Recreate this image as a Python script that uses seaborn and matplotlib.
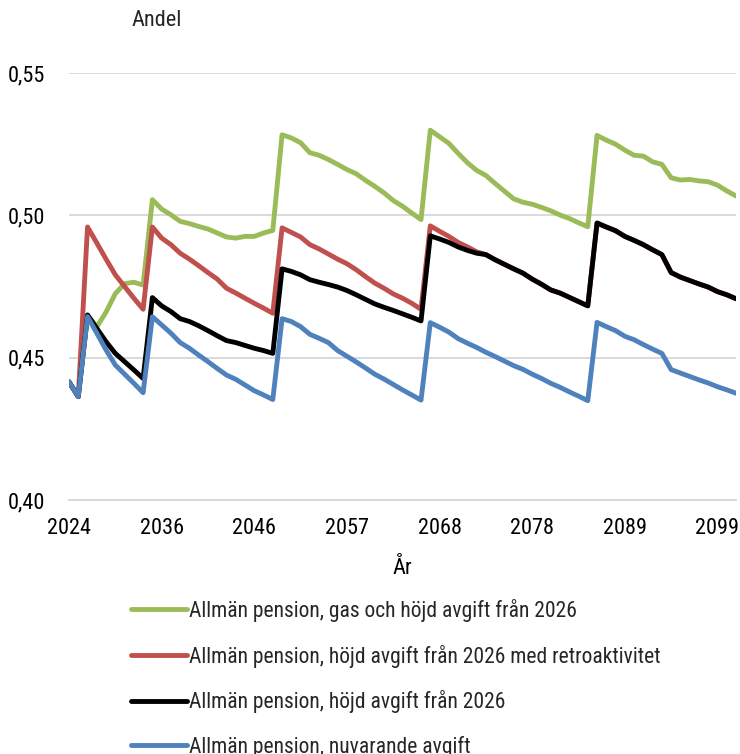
import numpy as np
import pandas as pd
import matplotlib
matplotlib.use("Agg")
import matplotlib.pyplot as plt
import seaborn as sns

# Category labels shown on the x axis (every 10th period)
tick_labels = ["2024", "2036", "2046", "2057", "2068", "2078", "2089", "2099"]

series_names = [
    "Allmän pension, gas och höjd avgift från 2026",
    "Allmän pension, höjd avgift från 2026 med retroaktivitet",
    "Allmän pension, höjd avgift från 2026",
    "Allmän pension, nuvarande avgift",
]
series_colors = ["#9BBB59", "#C0504D", "#000000", "#4F81BD"]

gas_hojd = [
    0.4415, 0.4363, 0.4650, 0.4608, 0.4660, 0.4725, 0.4760, 0.4765, 0.4755, 0.5055,
    0.5022, 0.5002, 0.4979, 0.4971, 0.4961, 0.4952, 0.4938, 0.4924, 0.4920, 0.4926,
    0.4926, 0.4938, 0.4947, 0.5283, 0.5272, 0.5255, 0.5220, 0.5211, 0.5196, 0.5179,
    0.5161, 0.5146, 0.5123, 0.5102, 0.5079, 0.5052, 0.5032, 0.5008, 0.4985, 0.5299,
    0.5276, 0.5253, 0.5218, 0.5185, 0.5158, 0.5140, 0.5112, 0.5085, 0.5058, 0.5046,
    0.5039, 0.5028, 0.5016, 0.5001, 0.4989, 0.4974, 0.4960, 0.5281, 0.5264, 0.5250,
    0.5229, 0.5211, 0.5208, 0.5188, 0.5179, 0.5132, 0.5124, 0.5126, 0.5121, 0.5118,
    0.5106, 0.5086, 0.5068,
]

hojd_retro = [
    0.4415, 0.4363, 0.4959, 0.4903, 0.4846, 0.4791, 0.4750, 0.4709, 0.4670, 0.4959,
    0.4920, 0.4897, 0.4867, 0.4846, 0.4823, 0.4799, 0.4776, 0.4744, 0.4727, 0.4709,
    0.4691, 0.4674, 0.4656, 0.4956, 0.4940, 0.4924, 0.4897, 0.4882, 0.4864, 0.4846,
    0.4830, 0.4809, 0.4785, 0.4762, 0.4744, 0.4724, 0.4709, 0.4691, 0.4670, 0.4963,
    0.4944, 0.4926, 0.4905, 0.4889, 0.4872, 0.4862, 0.4844, 0.4828, 0.4812, 0.4797,
    0.4776, 0.4758, 0.4738, 0.4727, 0.4712, 0.4697, 0.4682, 0.4973, 0.4959, 0.4946,
    0.4926, 0.4912, 0.4897, 0.4879, 0.4862, 0.4799, 0.4783, 0.4771, 0.4759, 0.4748,
    0.4732, 0.4721, 0.4707,
]

hojd = [
    0.4415, 0.4363, 0.4650, 0.4603, 0.4556, 0.4515, 0.4486, 0.4457, 0.4427, 0.4711,
    0.4682, 0.4662, 0.4637, 0.4627, 0.4612, 0.4595, 0.4577, 0.4560, 0.4553, 0.4543,
    0.4533, 0.4525, 0.4515, 0.4812, 0.4803, 0.4791, 0.4774, 0.4765, 0.4757, 0.4748,
    0.4736, 0.4721, 0.4705, 0.4689, 0.4677, 0.4666, 0.4654, 0.4642, 0.4629, 0.4928,
    0.4917, 0.4905, 0.4889, 0.4877, 0.4867, 0.4862, 0.4844, 0.4828, 0.4812, 0.4797,
    0.4776, 0.4758, 0.4738, 0.4727, 0.4712, 0.4697, 0.4682, 0.4973, 0.4959, 0.4946,
    0.4926, 0.4912, 0.4897, 0.4879, 0.4862, 0.4799, 0.4783, 0.4771, 0.4759, 0.4748,
    0.4732, 0.4721, 0.4707,
]

nuvarande = [
    0.4415, 0.4363, 0.4644, 0.4586, 0.4527, 0.4474, 0.4442, 0.4410, 0.4377, 0.4644,
    0.4615, 0.4586, 0.4553, 0.4533, 0.4509, 0.4486, 0.4462, 0.4439, 0.4424, 0.4404,
    0.4384, 0.4369, 0.4353, 0.4637, 0.4627, 0.4609, 0.4582, 0.4568, 0.4553, 0.4525,
    0.4505, 0.4485, 0.4464, 0.4442, 0.4425, 0.4406, 0.4387, 0.4369, 0.4351, 0.4623,
    0.4607, 0.4590, 0.4567, 0.4551, 0.4536, 0.4519, 0.4504, 0.4488, 0.4472, 0.4459,
    0.4442, 0.4427, 0.4410, 0.4396, 0.4380, 0.4365, 0.4349, 0.4624, 0.4609, 0.4595,
    0.4575, 0.4563, 0.4546, 0.4530, 0.4515, 0.4458, 0.4446, 0.4434, 0.4422, 0.4411,
    0.4398, 0.4387, 0.4375,
]

all_series = [gas_hojd, hojd_retro, hojd, nuvarande]
period = np.arange(len(nuvarande))

frames = []
for name, vals in zip(series_names, all_series):
    frames.append(pd.DataFrame({"period": period, "andel": vals, "serie": name}))
df = pd.concat(frames, ignore_index=True)

sns.set_theme(style="white")
plt.rcParams["font.family"] = ["Roboto Condensed", "DejaVu Sans"]

fs = 16
fig = plt.figure(figsize=(7.4, 7.54), dpi=100)
ax = fig.add_axes([69 / 740, 1 - 500 / 754, (736 - 69) / 740, (500 - 73) / 754])

sns.lineplot(
    data=df, x="period", y="andel", hue="serie",
    hue_order=series_names, palette=series_colors,
    linewidth=3.5, errorbar=None, legend=False, ax=ax,
    solid_joinstyle="round", solid_capstyle="round",
)

ax.set_xlim(0, len(period) - 1)
ax.set_ylim(0.40, 0.55)
ax.set_yticks([0.40, 0.45, 0.50, 0.55])
ax.set_yticklabels(["0,40", "0,45", "0,50", "0,55"])
ax.set_xticks(np.arange(0, len(period), 10))
ax.set_xticklabels(tick_labels)

grid_col = "#D9D9D9"
ax.yaxis.grid(True, color=grid_col, linewidth=1.4)
ax.xaxis.grid(False)
for side in ["top", "right", "left"]:
    ax.spines[side].set_visible(False)
ax.spines["bottom"].set_color(grid_col)
ax.spines["bottom"].set_linewidth(1.4)
ax.set_axisbelow(True)

ax.tick_params(axis="y", length=0, pad=17, labelsize=fs, labelcolor="#000000")
ax.tick_params(axis="x", direction="in", length=5, width=1.4, color=grid_col,
               pad=13, labelsize=fs, labelcolor="#000000")

ax.set_xlabel("År", fontsize=fs, labelpad=14, color="#000000")
ax.set_ylabel("")

fig.text(131 / 740, 1 - 20 / 754, "Andel", fontsize=fs, va="center", ha="left")

handles = ax.lines[:4]
fig.legend(
    handles, series_names, loc="upper left",
    bbox_to_anchor=(131 / 740, 1 - 599 / 754),
    frameon=False, fontsize=15.5, handlelength=2.6, handletextpad=0.1,
    labelspacing=1.05, borderpad=0, borderaxespad=0,
)

fig.savefig("out.png", dpi=100)
